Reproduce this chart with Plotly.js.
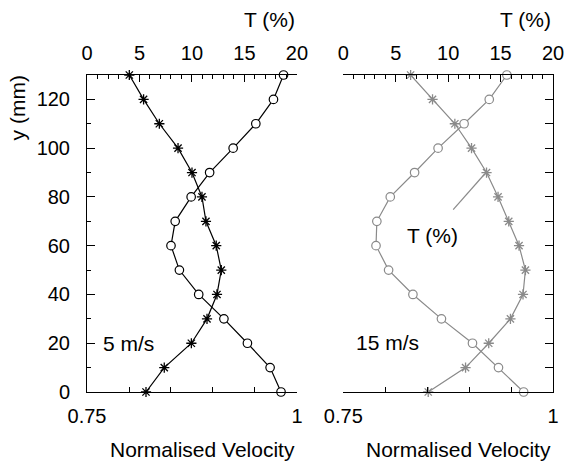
<!DOCTYPE html>
<html>
<head>
<meta charset="utf-8">
<script src="https://cdn.plot.ly/plotly-3.0.1.min.js"></script>
<style>html,body{margin:0;padding:0;background:#fff}#chart{width:566px;height:461px}</style>
</head>
<body>
<div id="chart"></div>
<script>
// Heights (mm)
const yMM = [0, 10, 20, 30, 40, 50, 60, 70, 80, 90, 100, 110, 120, 130];
// 5 m/s panel
const vel5 = [0.981, 0.968, 0.941, 0.913, 0.883, 0.860, 0.850, 0.855, 0.874, 0.896, 0.924, 0.951, 0.972, 0.984];
const turb5 = [5.62, 7.36, 9.94, 11.43, 12.38, 12.79, 12.31, 11.33, 10.95, 10.0, 8.67, 6.89, 5.39, 4.03];
// 15 m/s panel
const vel15 = [0.965, 0.935, 0.904, 0.867, 0.833, 0.804, 0.789, 0.790, 0.806, 0.835, 0.863, 0.894, 0.924, 0.945];
const turb15 = [8.10, 11.66, 13.87, 15.94, 17.14, 17.37, 16.76, 15.78, 14.76, 13.66, 12.23, 10.64, 8.51, 6.42];
// Tick labels
const velTickVals = [0.75, 1];
const velTickText = ["0.75", "1"];
const yTickVals = [0, 20, 40, 60, 80, 100, 120];
const yTickText = ["0", "20", "40", "60", "80", "100", "120"];
const panelLabels = ["5 m/s", "15 m/s"];

const FONT = "Liberation Sans, Arial, sans-serif";
const BLACK = "#000000";
const GRAY = "#8a8a8a";

function circ(x, y, xa, ya, col) {
  return {x: x, y: y, xaxis: xa, yaxis: ya, type: "scatter", mode: "lines+markers",
    line: {color: col, width: 1.2}, cliponaxis: false,
    marker: {symbol: "circle", size: 8.5, color: "#ffffff", line: {color: col, width: 1.2}},
    showlegend: false, hoverinfo: "skip"};
}
function star(x, y, xa, ya, col) {
  return {x: x, y: y, xaxis: xa, yaxis: ya, type: "scatter", mode: "lines+markers",
    line: {color: col, width: 1.2}, cliponaxis: false,
    marker: {symbol: "asterisk-open", size: 8.5, color: col, line: {color: col, width: 1.3}},
    showlegend: false, hoverinfo: "skip"};
}

const data = [
  circ(vel5, yMM, "x", "y", BLACK),
  star(turb5, yMM, "x2", "y", BLACK),
  circ(vel15, yMM, "x3", "y2", GRAY),
  star(turb15, yMM, "x4", "y2", GRAY)
];

const tickFont = {family: FONT, size: 20, color: BLACK};
const titleFont = {family: FONT, size: 21, color: BLACK};
const dL = [0, 0.4506];
const dR = [0.55, 1];

function velAxis(domain, anchor) {
  return {domain: domain, anchor: anchor, range: [0.75, 1], showgrid: false, zeroline: false,
    showline: true, linecolor: BLACK, linewidth: 1,
    tickmode: "array", tickvals: velTickVals, ticktext: velTickText,
    ticks: "inside", ticklen: 7, tickcolor: BLACK, tickfont: tickFont, ticklabelstandoff: 6,
    minor: {tick0: 0.75, dtick: 0.05, ticks: "inside", ticklen: 5, tickcolor: BLACK}};
}
function tAxis(domain, anchor, over) {
  return {domain: domain, anchor: anchor, overlaying: over, side: "top", range: [0, 20],
    showgrid: false, zeroline: false, showline: true, linecolor: BLACK, linewidth: 1,
    tick0: 0, dtick: 5, ticks: "inside", ticklen: 7, tickcolor: BLACK, tickfont: tickFont,
    ticklabelstandoff: 6,
    minor: {tick0: 0, dtick: 1, ticks: "inside", ticklen: 4, tickcolor: BLACK}};
}

const layout = {
  width: 566, height: 461,
  margin: {l: 87, r: 13, t: 75, b: 69, pad: 0},
  paper_bgcolor: "#ffffff", plot_bgcolor: "#ffffff",
  font: titleFont,
  showlegend: false,
  xaxis: velAxis(dL, "y"),
  xaxis2: tAxis(dL, "y", "x"),
  xaxis3: velAxis(dR, "y2"),
  xaxis4: tAxis(dR, "y2", "x3"),
  yaxis: {anchor: "x", range: [0, 130], showgrid: false, zeroline: false,
    showline: true, linecolor: BLACK, linewidth: 1,
    tickmode: "array", tickvals: yTickVals, ticktext: yTickText,
    ticks: "inside", ticklen: 8, tickcolor: BLACK, tickfont: tickFont, ticklabelstandoff: 12,
    minor: {tick0: 0, dtick: 10, ticks: "inside", ticklen: 4, tickcolor: BLACK}},
  yaxis2: {anchor: "x3", side: "right", range: [0, 130], showgrid: false, zeroline: false,
    showline: true, linecolor: BLACK, linewidth: 1, showticklabels: false,
    tick0: 0, dtick: 10, ticks: "inside", ticklen: 8, tickcolor: BLACK},
  annotations: [
    {text: "T (%)", xref: "paper", yref: "paper", x: dL[1], y: 1.175, xanchor: "right", yanchor: "middle", showarrow: false, font: titleFont},
    {text: "T (%)", xref: "paper", yref: "paper", x: 1, y: 1.175, xanchor: "right", yanchor: "middle", showarrow: false, font: titleFont},
    {text: "y (mm)", xref: "paper", yref: "paper", x: -0.15, y: 0.895, xanchor: "center", yanchor: "middle", textangle: -90, showarrow: false, font: titleFont},
    {text: "Normalised Velocity", xref: "paper", yref: "paper", x: dL[1], y: -0.18, xanchor: "right", yanchor: "middle", showarrow: false, font: titleFont},
    {text: "Normalised Velocity", xref: "paper", yref: "paper", x: 1, y: -0.18, xanchor: "right", yanchor: "middle", showarrow: false, font: titleFont},
    {text: panelLabels[0], xref: "paper", yref: "paper", x: 0.030, y: 0.152, xanchor: "left", yanchor: "middle", showarrow: false, font: titleFont},
    {text: panelLabels[1], xref: "paper", yref: "paper", x: 0.572, y: 0.155, xanchor: "left", yanchor: "middle", showarrow: false, font: titleFont},
    {text: "T (%)", xref: "paper", yref: "paper", x: 0.683, y: 0.495, xanchor: "left", yanchor: "middle", showarrow: false, font: titleFont}
  ],
  shapes: [
    {type: "line", xref: "x4", yref: "y2", x0: 10.48, y0: 74.8, x1: 13.5, y1: 89.5, line: {color: GRAY, width: 1.2}}
  ]
};

Plotly.newPlot("chart", data, layout, {staticPlot: true, displayModeBar: false});
</script>
</body>
</html>
